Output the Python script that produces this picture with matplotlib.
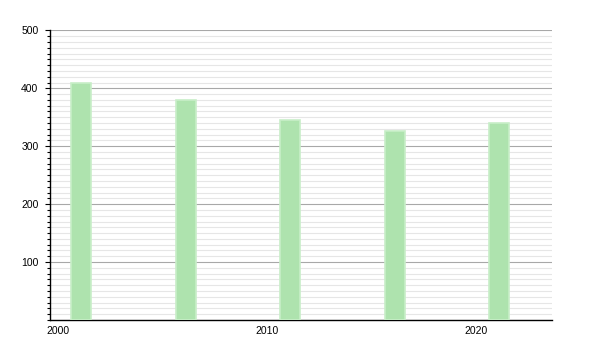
import matplotlib
matplotlib.use("Agg")
import matplotlib.pyplot as plt
from matplotlib.ticker import MultipleLocator

# census years and population
years = [2001, 2006, 2011, 2016, 2021]
population = [410, 380, 346, 327, 340]

xticks = [2000, 2010, 2020]
yticks = [100, 200, 300, 400, 500]

plt.rcParams['font.family'] = ['Liberation Sans', 'DejaVu Sans']

fig = plt.figure(figsize=(6, 3.5), dpi=100)
ax = fig.add_axes([0.0833, 0.0857, 0.836, 0.8275])

ax.bar([y + 0.1 for y in years], population, width=0.95,
       color='#aee3ae', edgecolor='#c8eec8', linewidth=1.2, zorder=3)

ax.set_xlim(1999.6, 2023.6)
ax.set_ylim(0, 500)

ax.set_xticks(xticks)
ax.set_xticklabels([str(t) for t in xticks])
ax.set_yticks(yticks)
ax.yaxis.set_minor_locator(MultipleLocator(10))

ax.grid(axis='y', which='major', color='#a8a8a8', linewidth=0.8, zorder=0)
ax.grid(axis='y', which='minor', color='#e6e6e6', linewidth=0.8, zorder=0)
ax.set_axisbelow(True)

for side in ['top', 'right']:
    ax.spines[side].set_visible(False)
ax.spines['left'].set_linewidth(1.0)
ax.spines['bottom'].set_linewidth(1.0)

ax.tick_params(axis='x', length=0, pad=4, labelsize=7.5)
ax.tick_params(axis='y', which='major', length=3.3, width=0.8, pad=5, labelsize=7.5)
ax.tick_params(axis='y', which='minor', length=2.2, width=0.8)

fig.savefig("out.png", dpi=100)
